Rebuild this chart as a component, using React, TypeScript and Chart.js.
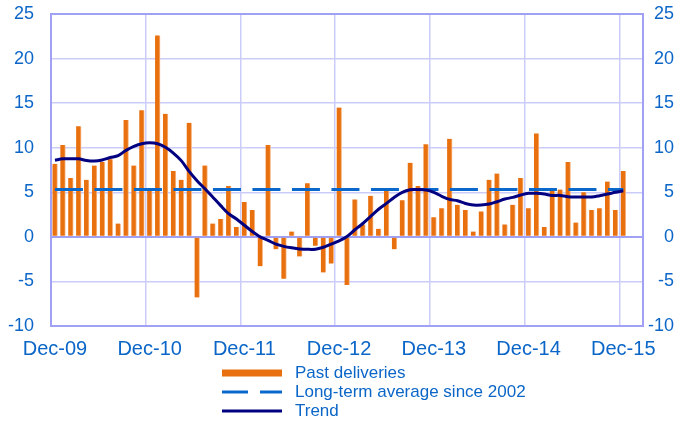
import React, { useEffect, useRef } from 'react';
import { Chart, registerables } from 'chart.js';

Chart.register(...registerables);

// ---- Data ----
const monthNames = ['Jan', 'Feb', 'Mar', 'Apr', 'May', 'Jun', 'Jul', 'Aug', 'Sep', 'Oct', 'Nov', 'Dec'];
// Category axis: Dec-09 ... Feb-16 (last two months have no data)
const months: string[] = Array.from({ length: 75 }, (_, i) => {
  const m = (11 + i) % 12;
  const y = 9 + Math.floor((11 + i) / 12);
  return `${monthNames[m]}-${String(y).padStart(2, '0')}`;
});
const xTickLabels = ['Dec-09', 'Dec-10', 'Dec-11', 'Dec-12', 'Dec-13', 'Dec-14', 'Dec-15'];

const pastDeliveries = [
  8.2, 10.3, 6.6, 12.4, 6.4, 8.0, 8.4, 8.7, 1.5, 13.1, 8.0, 14.2,
  5.2, 22.6, 13.8, 7.4, 6.4, 12.8, -6.8, 8.0, 1.5, 2.0, 5.7, 1.1,
  3.9, 3.0, -3.3, 10.3, -1.4, -4.7, 0.6, -2.2, 6.0, -1.0, -4.0, -3.0,
  14.5, -5.4, 4.2, 1.4, 4.6, 0.9, 5.2, -1.4, 4.1, 8.3, 5.7, 10.4,
  2.2, 3.2, 11.0, 3.6, 3.0, 0.6, 2.85, 6.4, 7.1, 1.4, 3.6, 6.6,
  3.2, 11.6, 1.1, 5.2, 5.3, 8.4, 1.6, 5.0, 3.0, 3.2, 6.2, 3.0,
  7.4,
];

const trend = [
  8.6, 8.75, 8.75, 8.75, 8.56, 8.5, 8.63, 8.9, 9.1, 9.7, 10.15, 10.45,
  10.55, 10.45, 10.05, 9.4, 8.55, 7.35, 6.3, 5.4, 4.45, 3.5, 2.6, 2.0,
  1.3, 0.6, 0.0, -0.4, -0.82, -1.07, -1.23, -1.35, -1.4, -1.39, -1.17, -0.82,
  -0.45, 0.05, 0.8, 1.5, 2.3, 3.1, 3.75, 4.45, 5.0, 5.28, 5.3, 5.25,
  5.0, 4.55, 4.2, 4.05, 3.75, 3.57, 3.57, 3.68, 3.94, 4.24, 4.43, 4.69,
  4.88, 4.88, 4.8, 4.65, 4.65, 4.5, 4.47, 4.47, 4.47, 4.62, 4.8, 5.0,
  5.18,
];

const longTermAverage = 5.3;
const averageLine = pastDeliveries.map(() => longTermAverage);

const legendLabels = ['Past deliveries', 'Long-term average since 2002', 'Trend'];
const yMin = -10;
const yMax = 25;
const yStep = 5;

// ---- Styles ----
const FONT = '"Liberation Sans", Arial, sans-serif';
const BAR_COLOR = '#E8700E';
const BAR_EDGE = '#F7B786';
const AVG_COLOR = '#0A68CC';
const TREND_COLOR = '#000080';
const TEXT_COLOR = '#0B66C8';
const GRID_COLOR = '#CCCCFA';
const BORDER_COLOR = '#A0A0F4';

const stackedLegend = {
  id: 'stackedLegend',
  afterDraw(chart: any) {
    const ctx = chart.ctx as CanvasRenderingContext2D;
    const x0 = 222;
    const x1 = 282;
    const tx = 295;
    const rows = [373, 392, 411];
    ctx.save();
    ctx.fillStyle = BAR_COLOR;
    ctx.fillRect(x0, rows[0] - 3.5, x1 - x0, 7);

    ctx.lineWidth = 3;
    ctx.strokeStyle = AVG_COLOR;
    ctx.setLineDash([26, 12]);
    ctx.beginPath();
    ctx.moveTo(x0, rows[1]);
    ctx.lineTo(x1, rows[1]);
    ctx.stroke();

    ctx.setLineDash([]);
    ctx.strokeStyle = TREND_COLOR;
    ctx.beginPath();
    ctx.moveTo(x0, rows[2]);
    ctx.lineTo(x1, rows[2]);
    ctx.stroke();

    ctx.fillStyle = TEXT_COLOR;
    ctx.font = `17px ${FONT}`;
    ctx.textAlign = 'left';
    ctx.textBaseline = 'middle';
    legendLabels.forEach((t, i) => ctx.fillText(t, tx, rows[i]));
    ctx.restore();
  },
};

export default function App() {
  const canvasRef = useRef<HTMLCanvasElement | null>(null);

  useEffect(() => {
    if (!canvasRef.current) return;
    const chart = new Chart(canvasRef.current, {
      type: 'bar',
      data: {
        labels: months,
        datasets: [
          {
            type: 'line',
            label: legendLabels[2],
            data: trend,
            borderColor: TREND_COLOR,
            borderWidth: 3,
            pointRadius: 0,
            tension: 0.3,
            order: 1,
          } as any,
          {
            type: 'line',
            label: legendLabels[1],
            data: averageLine,
            borderColor: AVG_COLOR,
            borderWidth: 3,
            borderDash: [28, 11.5],
            pointRadius: 0,
            tension: 0,
            order: 2,
          } as any,
          {
            type: 'bar',
            label: legendLabels[0],
            data: pastDeliveries,
            backgroundColor: BAR_COLOR,
            borderColor: BAR_EDGE,
            borderWidth: { left: 0, right: 1, top: 0, bottom: 0 },
            borderSkipped: false,
            barThickness: 5,
            order: 3,
          } as any,
        ],
      },
      options: {
        responsive: false,
        animation: false,
        layout: { padding: { top: 14, right: 1, bottom: 60, left: 0 } },
        plugins: {
          legend: { display: false },
          tooltip: { enabled: false },
        },
        scales: {
          x: {
            type: 'category',
            offset: true,
            grid: {
              offset: true,
              drawTicks: false,
              color: (c: any) => (c.index % 12 === 0 && c.index < 75 ? GRID_COLOR : 'rgba(0,0,0,0)'),
              lineWidth: 1.5,
            },
            border: { display: true, color: BORDER_COLOR, width: 2 },
            ticks: {
              autoSkip: false,
              maxRotation: 0,
              minRotation: 0,
              padding: 11,
              color: TEXT_COLOR,
              font: { family: FONT, size: 20 },
              callback: function (this: any, value: any) {
                const l = this.getLabelForValue(value);
                return xTickLabels.includes(l) ? l : '';
              },
            },
            afterFit: (s: any) => {
              s.height = 35;
            },
          },
          y: {
            position: 'left',
            min: yMin,
            max: yMax,
            ticks: {
              stepSize: yStep,
              padding: 17,
              color: TEXT_COLOR,
              font: { family: FONT, size: 18 },
            },
            grid: {
              drawTicks: false,
              color: (c: any) =>
                c.tick && (c.tick.value === 0 || c.tick.value === yMax) ? BORDER_COLOR : GRID_COLOR,
              lineWidth: (c: any) => (c.tick && (c.tick.value === 0 || c.tick.value === yMax) ? 2 : 1.5),
            },
            border: { display: true, color: BORDER_COLOR, width: 2 },
            afterFit: (s: any) => {
              s.width = 51;
              s.paddingTop = 0;
              s.paddingBottom = 0;
            },
          },
          y2: {
            position: 'right',
            min: yMin,
            max: yMax,
            ticks: {
              stepSize: yStep,
              padding: 4,
              crossAlign: 'far',
              color: TEXT_COLOR,
              font: { family: FONT, size: 18 },
            },
            grid: { display: false, drawTicks: false },
            border: { display: true, color: BORDER_COLOR, width: 2 },
            afterFit: (s: any) => {
              s.width = 31;
              s.paddingTop = 0;
              s.paddingBottom = 0;
            },
          },
        },
      } as any,
      plugins: [stackedLegend],
    });
    return () => chart.destroy();
  }, []);

  return (
    <div style={{ position: 'absolute', left: 0, top: 0, width: 675, height: 421, background: '#fff' }}>
      <canvas ref={canvasRef} width={675} height={421} />
    </div>
  );
}
